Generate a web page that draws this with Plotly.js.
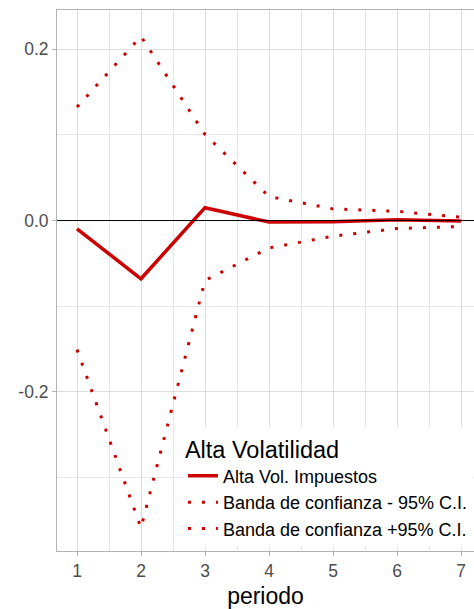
<!DOCTYPE html>
<html>
<head>
<meta charset="utf-8">
<script src="https://cdn.plot.ly/plotly-3.0.1.min.js"></script>
<style>
  html, body { margin: 0; padding: 0; background: #ffffff; }
  #chart { width: 474px; height: 609px; }
</style>
</head>
<body>
<div id="chart"></div>
<script>
// ---- data ----
const periodo = [1, 2, 3, 4, 5, 6, 7];
const altaVolImpuestos = [-0.0097, -0.068, 0.015, -0.0018, -0.0015, 0.0010, -0.0004];
const bandaInferior = [-0.1507, -0.3587, -0.070, -0.032, -0.0183, -0.0093, -0.0070];
const bandaSuperior = [0.1325, 0.2149, 0.1005, 0.028, 0.0136, 0.0108, 0.0038];
const seriesNames = ["Alta Vol. Impuestos", "Banda de confianza - 95% C.I.", "Banda de confianza +95% C.I."];
const legendTitle = "Alta Volatilidad";
const xTitle = "periodo";
const xTickVals = [1, 2, 3, 4, 5, 6, 7];
const yTickVals = [-0.2, 0.0, 0.2];
const yTickText = ["-0.2", "0.0", "0.2"];

const red = "#CD0000";
const dotDash = "3px,11px";

const traces = [
  { x: periodo, y: altaVolImpuestos, name: seriesNames[0], type: "scatter", mode: "lines",
    line: { color: red, width: 3.5 } },
  { x: periodo, y: bandaInferior, name: seriesNames[1], type: "scatter", mode: "lines",
    line: { color: red, width: 3, dash: dotDash } },
  { x: periodo, y: bandaSuperior, name: seriesNames[2], type: "scatter", mode: "lines",
    line: { color: red, width: 3, dash: dotDash } }
];

const layout = {
  width: 474, height: 609,
  margin: { l: 57, r: 0, t: 10, b: 58 },
  paper_bgcolor: "#ffffff", plot_bgcolor: "#ffffff",
  font: { family: "Liberation Sans, Arial, sans-serif", color: "#4D4D4D" },
  showlegend: true,
  xaxis: {
    range: [0.6875, 7.203],
    tickvals: xTickVals,
    ticktext: xTickVals.map(String),
    tickfont: { size: 17.5, color: "#4D4D4D" },
    ticks: "outside", ticklen: 4, tickcolor: "#B3B3B3", tickwidth: 1,
    showgrid: true, gridcolor: "#DEDEDE", gridwidth: 1,
    minor: { tickvals: [1.5, 2.5, 3.5, 4.5, 5.5, 6.5], showgrid: true, gridcolor: "#E6E6E6", gridwidth: 1 },
    showline: true, linecolor: "#B3B3B3", linewidth: 1, mirror: true,
    zeroline: false,
    title: { text: xTitle, font: { size: 23, color: "#000000" }, standoff: 7 }
  },
  yaxis: {
    range: [-0.3858, 0.2458],
    tickvals: yTickVals,
    ticktext: yTickText,
    tickfont: { size: 17.5, color: "#4D4D4D" },
    ticks: "outside", ticklen: 4, tickcolor: "#B3B3B3", tickwidth: 1,
    showgrid: true, gridcolor: "#DEDEDE", gridwidth: 1,
    minor: { tickvals: [-0.3, -0.1, 0.1], showgrid: true, gridcolor: "#E6E6E6", gridwidth: 1 },
    showline: true, linecolor: "#B3B3B3", linewidth: 1, mirror: false,
    zeroline: false
  },
  shapes: [
    { type: "line", xref: "paper", x0: 0, x1: 1, yref: "y", y0: 0, y1: 0,
      line: { color: "#000000", width: 1 }, layer: "above" }
  ],
  legend: {
    x: 0.302, xanchor: "left", y: 0.2292, yanchor: "top",
    bgcolor: "#ffffff", borderwidth: 0,
    font: { size: 18, color: "#000000" },
    title: { text: legendTitle, font: { size: 23.5, color: "#000000" } },
    traceorder: "normal"
  }
};

Plotly.newPlot("chart", traces, layout, { displayModeBar: false, staticPlot: true });
</script>
</body>
</html>
